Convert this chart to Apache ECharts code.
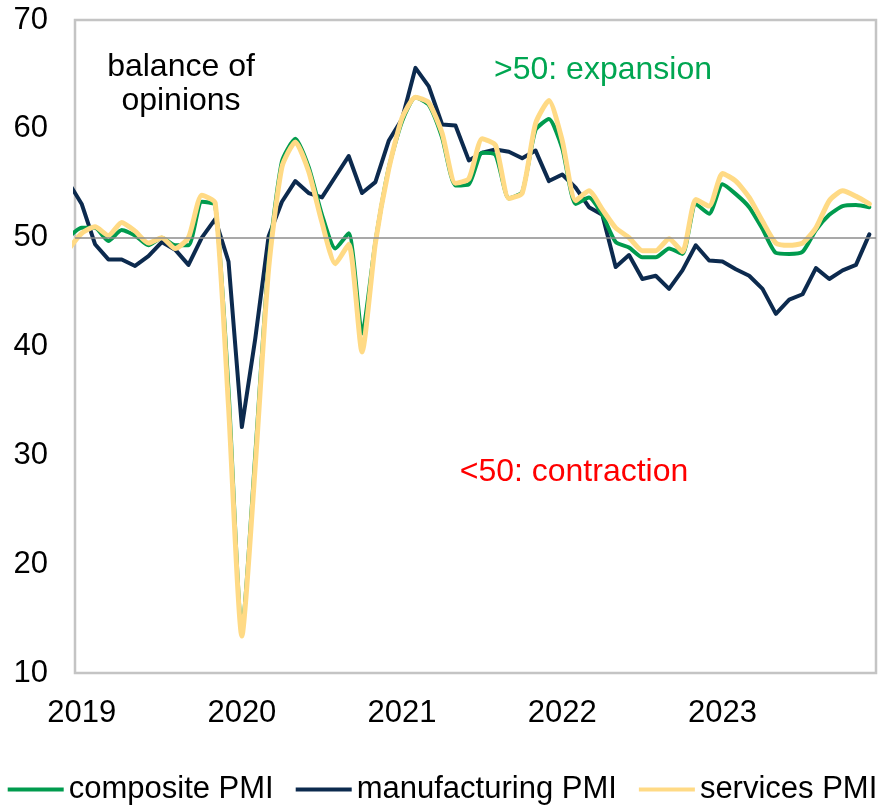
<!DOCTYPE html>
<html>
<head>
<meta charset="utf-8">
<script src="https://cdn.jsdelivr.net/npm/echarts@6/dist/echarts.min.js"></script>
<style>
html,body{margin:0;padding:0;background:#fff;}
#chart{width:885px;height:806px;}
</style>
</head>
<body>
<div id="chart"></div>
<script>
// Monthly observations, Mar 2019 .. Mar 2024
var months = [
  '2019-03','2019-04','2019-05','2019-06','2019-07','2019-08','2019-09','2019-10','2019-11','2019-12',
  '2020-01','2020-02','2020-03','2020-04','2020-05','2020-06','2020-07','2020-08','2020-09','2020-10','2020-11','2020-12',
  '2021-01','2021-02','2021-03','2021-04','2021-05','2021-06','2021-07','2021-08','2021-09','2021-10','2021-11','2021-12',
  '2022-01','2022-02','2022-03','2022-04','2022-05','2022-06','2022-07','2022-08','2022-09','2022-10','2022-11','2022-12',
  '2023-01','2023-02','2023-03','2023-04','2023-05','2023-06','2023-07','2023-08','2023-09','2023-10','2023-11','2023-12',
  '2024-01','2024-02','2024-03'
];
var compositePMI = [
  50.0,50.9,50.9,49.7,50.7,50.2,49.3,50.0,49.3,49.3,
  53.3,53.0,36.0,13.8,30.0,47.7,57.0,59.1,56.5,52.1,49.0,50.4,
  41.2,49.6,56.4,60.7,62.9,62.2,59.2,54.8,54.9,57.8,57.6,53.6,
  54.2,59.9,60.9,58.2,53.1,53.7,52.1,49.6,49.1,48.2,48.2,49.0,
  48.5,53.1,52.2,54.9,54.0,52.8,50.8,48.6,48.5,48.7,50.7,52.1,
  52.9,53.0,52.8
];
var manufacturingPMI = [
  55.1,53.1,49.4,48.0,48.0,47.4,48.3,49.6,48.9,47.5,
  50.0,51.7,47.8,32.6,40.7,50.1,53.3,55.2,54.1,53.7,55.6,57.5,
  54.1,55.1,58.9,60.9,65.6,63.9,60.4,60.3,57.1,57.8,58.1,57.9,
  57.3,58.0,55.2,55.8,54.6,52.8,52.1,47.3,48.4,46.2,46.5,45.3,
  47.0,49.3,47.9,47.8,47.1,46.5,45.3,43.0,44.3,44.8,47.2,46.2,
  47.0,47.5,50.3
];
var servicesPMI = [
  48.9,50.4,51.0,50.2,51.4,50.6,49.5,50.0,49.0,50.0,
  53.9,53.2,34.5,13.4,29.0,47.1,56.5,58.8,56.1,51.4,47.6,49.4,
  39.5,49.5,56.3,61.0,62.9,62.4,59.6,55.0,55.4,59.1,58.5,53.6,
  54.1,60.5,62.6,58.9,53.4,54.3,52.6,50.9,50.0,48.8,48.8,49.9,
  48.7,53.5,52.9,55.9,55.2,53.7,51.5,49.5,49.3,49.5,50.9,53.4,
  54.3,53.8,53.1
];
var seriesNames = ['composite PMI','manufacturing PMI','services PMI'];
var tickMonths = ['2019-04','2020-04','2021-04','2022-04','2023-04'];
var tickLabels = ['2019','2020','2021','2022','2023'];
var yTicks = [10,20,30,40,50,60,70];
var neutralLevel = 50;

var FONT = '"Liberation Sans", Arial, sans-serif';
function pairs(arr){ return arr.map(function(v,i){ return [i, v]; }); }
var tickIdx = tickMonths.map(function(m){ return months.indexOf(m); });

var chart = echarts.init(document.getElementById('chart'), null, {renderer:'canvas'});
var option = {
  animation: false,
  backgroundColor: '#fff',
  grid: {left: 75, right: 9, top: 20, bottom: 133, show: true, borderColor: '#C4C4C4', borderWidth: 2.5, backgroundColor: 'transparent'},
  xAxis: {
    type: 'value', min: 0.5, max: months.length - 0.5,
    axisLine: {show: false}, axisTick: {show: false}, splitLine: {show: false},
    axisLabel: {
      customValues: tickIdx,
      formatter: function(v){ var k = tickIdx.indexOf(Math.round(v)); return k >= 0 ? tickLabels[k] : ''; },
      fontSize: 31, fontFamily: FONT, color: '#000', margin: 25
    }
  },
  yAxis: {
    type: 'value', min: yTicks[0], max: yTicks[yTicks.length-1], interval: 10,
    axisLine: {show: false}, axisTick: {show: false}, splitLine: {show: false},
    axisLabel: {fontSize: 31, fontFamily: FONT, color: '#000', margin: 27}
  },
  legend: {
    data: seriesNames, left: 'center', top: 769, icon: 'rect', itemWidth: 56, itemHeight: 4, itemGap: 22,
    textStyle: {fontSize: 31, fontFamily: FONT, color: '#000'}
  },
  graphic: [
    {type:'text', x: 181, y: 67, style:{text:'balance of', fill:'#000', font:'32px ' + FONT, textAlign:'center', textVerticalAlign:'middle'}},
    {type:'text', x: 181, y: 101, style:{text:'opinions', fill:'#000', font:'32px ' + FONT, textAlign:'center', textVerticalAlign:'middle'}},
    {type:'text', x: 603, y: 70, style:{text:'>50: expansion', fill:'#00A651', font:'32px ' + FONT, textAlign:'center', textVerticalAlign:'middle'}},
    {type:'text', x: 574, y: 472, style:{text:'<50: contraction', fill:'#FF0000', font:'32px ' + FONT, textAlign:'center', textVerticalAlign:'middle'}}
  ],
  series: [
    {name: seriesNames[0], type:'line', data: pairs(compositePMI), showSymbol:false, z:3, smooth: 0.2,
     color:'#009B4E', lineStyle:{color:'#009B4E', width:4, join:'round', cap:'round'}},
    {name: seriesNames[1], type:'line', data: pairs(manufacturingPMI), showSymbol:false, z:2,
     color:'#0C2A4E', lineStyle:{color:'#0C2A4E', width:4, join:'round', cap:'round'},
     markLine:{silent:true, symbol:'none', label:{show:false}, lineStyle:{color:'#8C8C8C', width:1.5, type:'solid'}, data:[{yAxis: neutralLevel}]}},
    {name: seriesNames[2], type:'line', data: pairs(servicesPMI), showSymbol:false, z:4, smooth: 0.2,
     color:'#FFDA85', lineStyle:{color:'#FFDA85', width:5, join:'round', cap:'round'}}
  ]
};
chart.setOption(option);
</script>
</body>
</html>
